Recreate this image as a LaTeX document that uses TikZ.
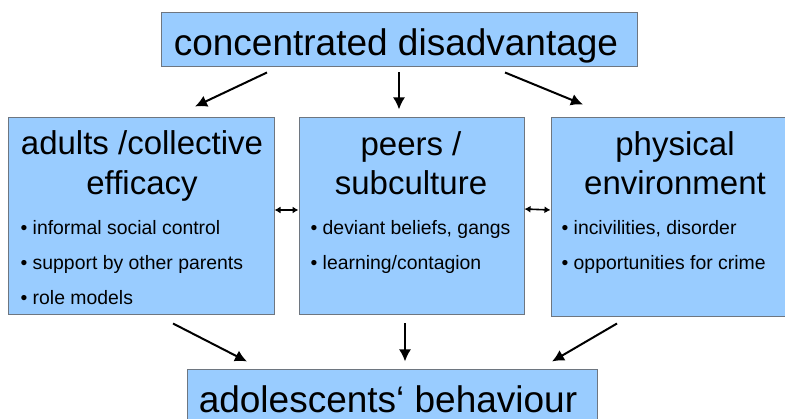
\documentclass[tikz,border=0pt]{standalone}
\usepackage{fontspec}
\setmainfont{Liberation Sans}
\usetikzlibrary{arrows.meta}
\definecolor{boxblue}{HTML}{99CCFF}
\definecolor{boxrand}{HTML}{6E7680}
\begin{document}
\begin{tikzpicture}[x=1pt,y=-1pt,
	box/.style={draw=boxrand,fill=boxblue,line width=1pt,inner sep=0pt},
	kopf/.style={font=\fontsize{33}{40}\selectfont,anchor=base},
	punkt/.style={font=\fontsize{19.4}{22}\selectfont,anchor=base west},
	pfeil/.style={-{Latex[length=12pt,width=12pt]},line width=2pt},
	dpfeil/.style={{Latex[length=6pt,width=7pt]}-{Latex[length=6pt,width=7pt]},line width=1.6pt}]
	\clip (0,0) rectangle (785,419);

	% Kaesten
	\node[box,minimum width=476,minimum height=54] (oben) at (399,40) {};
	\node[box,minimum width=266,minimum height=197] (adults) at (141,216.5) {};
	\node[box,minimum width=225,minimum height=197] (peers) at (411.5,216.5) {};
	\node[box,minimum width=250,minimum height=199] (umwelt) at (676,217.5) {};
	\node[box,minimum width=410,minimum height=62] (unten) at (392,401) {};

	% Texte
	\node[kopf,font=\fontsize{37}{40}\selectfont] (t0) at (396,56) {concentrated disadvantage};
	\node[kopf] (t1) at (142,155) {adults /collective};
	\node[kopf] (t2) at (142,195) {efficacy};
	\node[kopf] (t3) at (411,156) {peers /};
	\node[kopf] (t4) at (411,195) {subculture};
	\node[kopf] (t5) at (675,156) {physical};
	\node[kopf] (t6) at (675,195) {environment};
	\node[kopf,font=\fontsize{37}{40}\selectfont] (t7) at (388,413) {adolescents‘ behaviour};

	\node[punkt] (a1) at (17,235) {\textbullet\ informal social control};
	\node[punkt] (a2) at (17,270) {\textbullet\ support by other parents};
	\node[punkt] (a3) at (17,305) {\textbullet\ role models};
	\node[punkt] (p1) at (307,235) {\textbullet\ deviant beliefs, gangs};
	\node[punkt] (p2) at (307,270) {\textbullet\ learning/contagion};
	\node[punkt] (u1) at (558,235) {\textbullet\ incivilities, disorder};
	\node[punkt] (u2) at (558,270) {\textbullet\ opportunities for crime};

	% Pfeile
	\draw[pfeil] ([shift={(-132,5)}]oben.south) -- ([shift={(54,-11)}]adults.north);
	\draw[pfeil] ([shift={(0,5)}]oben.south) -- ([shift={(-12.5,-8)}]peers.north);
	\draw[pfeil] ([shift={(106,5)}]oben.south) -- ([shift={(-93,-13)}]umwelt.north);

	\draw[pfeil] ([shift={(32,8)}]adults.south) -- ([shift={(-145,-8)}]unten.north);
	\draw[pfeil] ([shift={(-6.5,8)}]peers.south) -- ([shift={(13,-8)}]unten.north);
	\draw[pfeil] ([shift={(-59,6)}]umwelt.south) -- ([shift={(160,-8)}]unten.north);

	\draw[dpfeil] ([yshift=6.5]adults.east) -- ([yshift=6.5]peers.west);
	\draw[dpfeil] ([yshift=7.5]peers.east) -- ([yshift=7.5]umwelt.west);
\end{tikzpicture}
\end{document}
